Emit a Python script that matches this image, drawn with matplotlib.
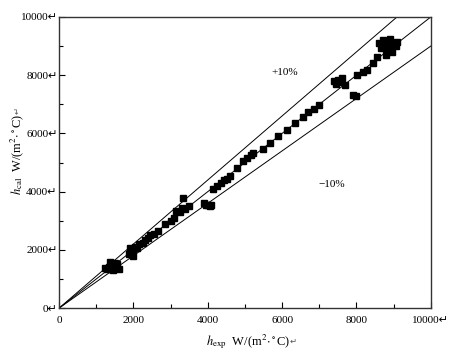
import matplotlib
matplotlib.use("Agg")
import matplotlib.pyplot as plt
from matplotlib.ticker import MultipleLocator, FixedLocator

plt.rcParams['font.family'] = ['Liberation Serif', 'DejaVu Sans']
plt.rcParams['mathtext.fontset'] = 'stix'

# experimental vs calculated heat transfer coefficients, W/(m2.C)
h_exp = [1250, 1300, 1350, 1400, 1450, 1500, 1520, 1550, 1600, 1480, 1380,
         1870, 1900, 1950, 2000, 2050, 1920, 1980, 2100,
         2150, 2250, 2300, 2400, 2450, 2550, 2650, 2850, 3000, 3100,
         3150, 3250, 3300, 3400, 3500, 3330,
         3900, 3950, 4000, 4050, 4100,
         4150, 4250, 4350, 4450, 4520, 4600, 4785, 4950, 5050, 5150, 5215,
         5480, 5670, 5890, 6130, 6340, 6560, 6700, 6850, 7000,
         7400, 7450, 7500, 7550, 7600, 7700,
         7900, 8000, 8010, 8170, 8280, 8440, 8550,
         8600, 8700, 8750, 8800, 8850, 8900, 8950, 9000, 9050, 9100, 8650, 8800, 8900]
h_cal = [1380, 1350, 1400, 1350, 1300, 1550, 1450, 1500, 1350, 1420, 1600,
         1850, 2050, 1950, 2000, 2100, 1900, 1800, 2050,
         2200, 2250, 2350, 2400, 2500, 2550, 2650, 2900, 3000, 3100,
         3350, 3300, 3450, 3400, 3500, 3780,
         3600, 3550, 3550, 3500, 3550,
         4100, 4200, 4300, 4400, 4450, 4550, 4810, 5050, 5150, 5250, 5330,
         5480, 5670, 5910, 6120, 6360, 6580, 6720, 6850, 6980,
         7800, 7700, 7850, 7750, 7900, 7650,
         7320, 7300, 8010, 8110, 8180, 8420, 8630,
         9100, 9200, 9000, 9150, 8900, 9050, 8800, 9100, 9000, 9150, 8950, 8700, 9250]

x_ticks = [0, 2000, 4000, 6000, 8000, 10000]
x_tick_labels = ['0', '2000', '4000', '6000', '8000', '10000\u21b5']
y_ticks = [0, 2000, 4000, 6000, 8000, 10000]
y_tick_labels = ['0\u21b5', '2000\u21b5', '4000\u21b5', '6000\u21b5', '8000\u21b5', '10000\u21b5']
ratios = [1.0, 1.1, 0.9]
band_labels = ['+10%', '\u221210%']
x_label = r'$h_{\rm exp}$  W/(m$^2$$\cdot$$^\circ$C)'
y_label = r'$h_{\rm cal}$  W/(m$^2$$\cdot$$^\circ$C)'
ret_mark = '\u21b5'

W, H = 454, 360
fig = plt.figure(figsize=(W / 100, H / 100), dpi=100)
ax = fig.add_axes([0.130, 0.144, 0.819, 0.809])

for r in ratios:
    xe = min(10000, 10000 / r)
    ax.plot([0, xe], [0, r * xe], color='black', lw=0.7)

ax.plot(h_exp, h_cal, linestyle='none', marker='s', ms=4.6, color='black')

ax.set_xlim(0, 10000)
ax.set_ylim(0, 10000)
ax.xaxis.set_major_locator(FixedLocator(x_ticks))
ax.yaxis.set_major_locator(FixedLocator(y_ticks))
ax.set_xticklabels(x_tick_labels)
ax.set_yticklabels(y_tick_labels)
ax.xaxis.set_minor_locator(MultipleLocator(1000))
ax.yaxis.set_minor_locator(MultipleLocator(1000))
ax.tick_params(which='major', direction='in', length=4, width=0.8, labelsize=8, pad=3)
ax.tick_params(which='minor', direction='in', length=3, width=0.8)
ax.tick_params(axis='x', pad=6)
ax.tick_params(axis='y', pad=1)
for s in ax.spines.values():
    s.set_linewidth(1.0)
    s.set_color('#333333')

ax.text(6075, 8075, band_labels[0], fontsize=8, ha='center', va='center')
ax.text(7340, 4230, band_labels[1], fontsize=8, ha='center', va='center')

# x label (ends ~ x=291 px), return mark after it
fig.text(290 / W, 1 - 342 / H, x_label, fontsize=9, ha='right', va='center')
fig.text(290 / W, 1 - 342 / H, ret_mark, fontsize=6, ha='left', va='center', color='#555555')
# y label (top end ~ y=112 px), return mark above it
fig.text(17 / W, 1 - 114 / H, y_label, fontsize=9, ha='center', va='top', rotation=90)
fig.text(17 / W, 1 - 114 / H, ret_mark, fontsize=6, ha='center', va='bottom', rotation=90,
         color='#555555')

fig.savefig('out.png', dpi=100)
